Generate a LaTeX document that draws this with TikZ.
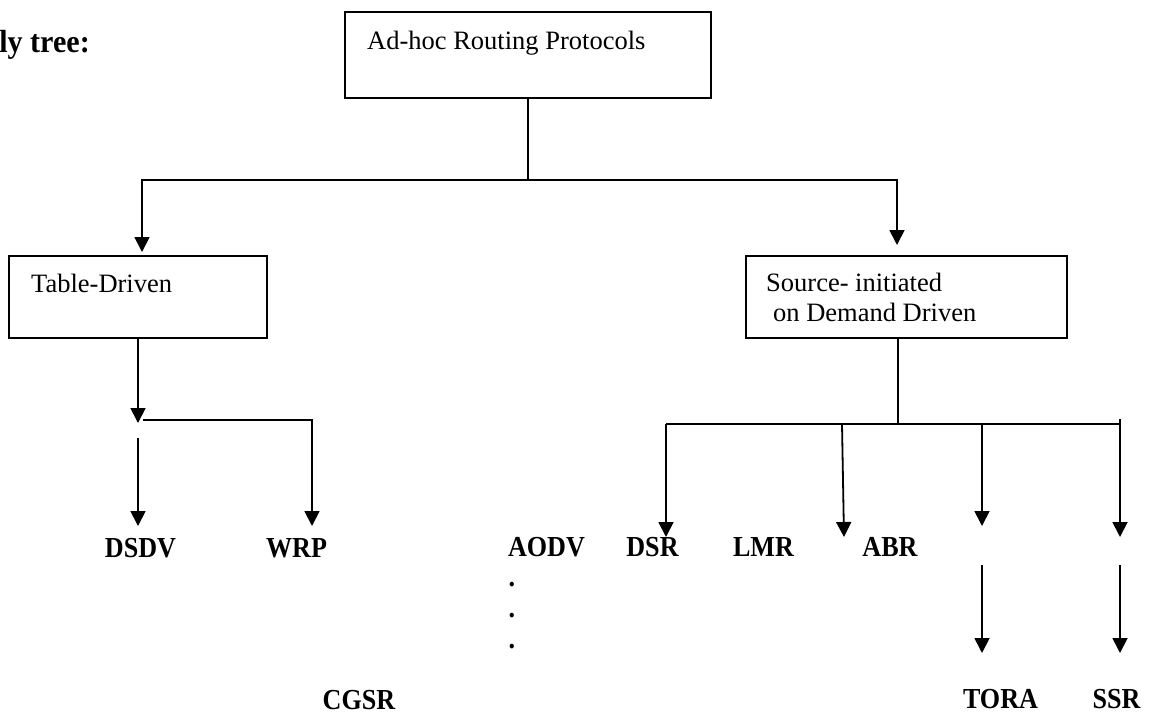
\documentclass[tikz,border=0pt]{standalone}
\usepackage{fontspec}
\setmainfont{Liberation Serif}
\newfontfamily\protofont[FakeStretch=0.9]{Liberation Serif}
\newfontfamily\headfont[FakeStretch=0.94]{Liberation Serif}
\usetikzlibrary{arrows.meta}

\tikzset{
  box/.style={draw,line width=2pt,inner sep=0pt},
  txt/.style={font=\fontsize{26.5}{30}\selectfont,inner sep=0pt,anchor=base west},
  proto/.style={font=\protofont\fontsize{29}{32}\selectfont\bfseries,inner sep=0pt,anchor=base},
  link/.style={line width=1.6pt},
  arr/.style={line width=1.8pt,-{Triangle[width=15pt,length=15pt]}}
}

\begin{document}
\begin{tikzpicture}[x=1pt,y=-1pt]
\useasboundingbox (0,0) rectangle (1154,713);
% heading, cut off at the left edge
\node[txt,font=\headfont\fontsize{32}{34}\selectfont\bfseries,anchor=base east] (head) at (90,52) {ly tree:};

% boxes
\node[box,minimum width=366pt,minimum height=86pt] (root) at (528,55) {};
\node[txt] (roottxt) at (367,49) {Ad-hoc Routing Protocols};
\node[box,minimum width=258pt,minimum height=82pt] (table) at (138,297) {};
\node[txt] (tabletxt) at (31,292) {Table-Driven};
\node[box,minimum width=321pt,minimum height=82pt] (src) at (906.5,297) {};
\node[txt] (srctxt) at (766,291) {Source- initiated};
\node[txt] (srctxtb) at (773,321) {on Demand Driven};

% protocols
\node[proto] (dsdv) at (140.5,557) {DSDV};
\node[proto] (wrp) at (296.5,557) {WRP};
\node[proto] (cgsr) at (359,709) {CGSR};
\node[proto] (aodv) at (546.5,556) {AODV};
\node[proto] (dsr) at (652.5,556) {DSR};
\node[proto] (lmr) at (763.5,556) {LMR};
\node[proto] (abr) at (890,556) {ABR};
\node[proto] (tora) at (1000.5,708) {TORA};
\node[proto] (ssr) at (1116.5,708) {SSR};
\foreach \y/\n in {586/1,617/2,648/3}
  \node[proto] (dot\n) at (512,\y) {.};

% first level
\coordinate (rootsplit) at (528,180);
\coordinate (tabletip) at (142,252);
\coordinate (srctip) at (897,245);
\draw[link] (root.south) -- (rootsplit);
\draw[arr] (rootsplit) -| (tabletip);
\draw[arr] (rootsplit) -| (srctip);

% table driven
\coordinate (tdtip) at (138,423);
\coordinate (tdgap) at (138,438);
\coordinate (tdjoin) at (143,420);
\coordinate (dsdvtip) at (138,526);
\coordinate (wrptip) at (312,526);
\draw[arr] (table.south) -- (tdtip);
\draw[arr] (tdgap) -- (dsdvtip);
\draw[arr] (tdjoin) -| (wrptip);

% on demand
\coordinate (srcsplit) at (898,424);
\coordinate (bar1) at (666,424);
\coordinate (bar2) at (842,424);
\coordinate (bar3) at (982,424);
\coordinate (bar4) at (1120,424);
\coordinate (tip1) at (666,537);
\coordinate (tip2) at (844,537);
\coordinate (tip3) at (982,526);
\coordinate (tip4) at (1120,537);
\draw[link] (src.south -| srcsplit) -- (srcsplit);
\draw[link] (bar1) -- (bar4);
\draw[arr] (bar1) -- (tip1);
\draw[arr] (bar2) -- (tip2);
\draw[arr] (bar3) -- (tip3);
\draw[arr] ([yshift=5pt]bar4) -- (tip4);

% lower arrows
\coordinate (toralow) at (982,565);
\coordinate (toratip) at (982,653);
\coordinate (ssrlow) at (1120,565);
\coordinate (ssrtip) at (1120,653);
\draw[arr] (toralow) -- (toratip);
\draw[arr] (ssrlow) -- (ssrtip);
\end{tikzpicture}
\end{document}
